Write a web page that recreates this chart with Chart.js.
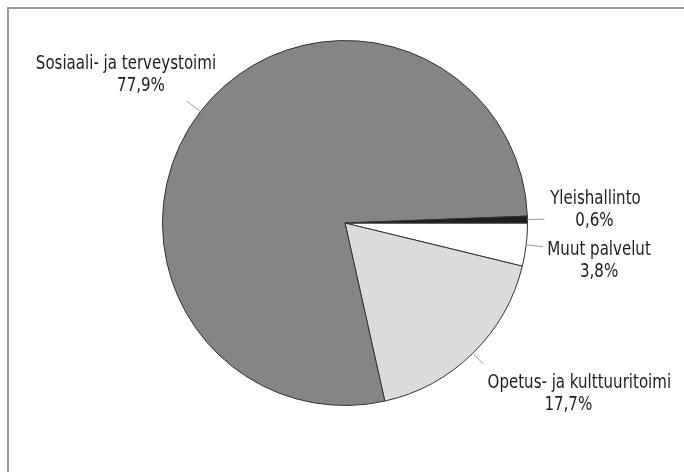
<!DOCTYPE html>
<html>
<head>
<meta charset="utf-8">
<script src="https://cdn.jsdelivr.net/npm/chart.js@4.4.1/dist/chart.umd.min.js"></script>
<style>
  html, body { margin: 0; padding: 0; background: #fff; }
  #wrap { position: relative; width: 684px; height: 472px; }
  #frame { position: absolute; left: 7px; top: 7px; right: 0; bottom: 0;
           border-top: 2px solid #9a9a9a; border-left: 2px solid #9a9a9a; }
  canvas { position: absolute; left: 0; top: 0; }
</style>
</head>
<body>
<div id="wrap">
  <div id="frame"></div>
  <canvas id="pieChart" width="684" height="472"></canvas>
</div>
<script>
// Data (clockwise from 3 o'clock)
const labels = ['Muut palvelut', 'Opetus- ja kulttuuritoimi', 'Sosiaali- ja terveystoimi', 'Yleishallinto'];
const values = [3.8, 17.7, 77.9, 0.6];
const valueLabels = ['3,8%', '17,7%', '77,9%', '0,6%'];

// little 2x2 dither patterns to mimic the printed greys
function dither(a, b) {
  const c = document.createElement('canvas');
  c.width = 2; c.height = 2;
  const g = c.getContext('2d');
  g.fillStyle = a; g.fillRect(0, 0, 2, 2);
  g.fillStyle = b; g.fillRect(0, 0, 1, 1); g.fillRect(1, 1, 1, 1);
  return g.createPattern(c, 'repeat');
}
const ctx = document.getElementById('pieChart').getContext('2d');
const colors = ['#ffffff', dither('#d2d2d2', '#e4e4e4'), dither('#7c7c7c', '#8e8e8e'), '#1e1e1e'];

// label settings per slice: leader length, text offset from leader end, 2nd line shift
const labelStyle = [
  { lead: 17, dx: 56, dy: 3, dx2: 0 },
  { lead: 15, dx: 96, dy: 19, dx2: -11 },
  { lead: 17, dx: -61, dy: -37, dx2: 15 },
  { lead: 17, dx: 51, dy: -20, dx2: -1 }
];

const leaderLabels = {
  id: 'leaderLabels',
  afterDatasetsDraw(chart) {
    const c = chart.ctx;
    const meta = chart.getDatasetMeta(0);
    c.save();
    c.font = '19px "Liberation Sans Narrow", "DejaVu Sans Condensed", sans-serif';
    c.fillStyle = '#1e1e1e';
    c.textAlign = 'center';
    c.textBaseline = 'middle';
    meta.data.forEach((arc, i) => {
      const p = arc.getProps(['x', 'y', 'startAngle', 'endAngle', 'outerRadius'], true);
      const mid = (p.startAngle + p.endAngle) / 2;
      const r = p.outerRadius;
      const s = labelStyle[i];
      const x0 = p.x + Math.cos(mid) * r, y0 = p.y + Math.sin(mid) * r;
      const x1 = p.x + Math.cos(mid) * (r + s.lead), y1 = p.y + Math.sin(mid) * (r + s.lead);
      c.strokeStyle = '#9a9a9a';
      c.lineWidth = 1;
      c.beginPath(); c.moveTo(x0, y0); c.lineTo(x1, y1); c.stroke();
      const tx = x1 + s.dx, ty = y1 + s.dy;
      // squeeze horizontally to get the condensed look
      c.save();
      c.translate(tx, ty);
      c.scale(0.88, 1);
      c.fillText(labels[i], 0, 0);
      c.fillText(valueLabels[i], s.dx2 / 0.88, 22);
      c.restore();
    });
    c.restore();
  }
};

new Chart(ctx, {
  type: 'pie',
  data: {
    labels: labels,
    datasets: [{
      data: values,
      backgroundColor: colors,
      borderColor: '#333333',
      borderWidth: 1
    }]
  },
  options: {
    responsive: false,
    animation: false,
    rotation: 90,
    layout: { padding: { left: 162, right: 156, top: 40, bottom: 66 } },
    plugins: {
      legend: { display: false },
      tooltip: { enabled: false }
    }
  },
  plugins: [leaderLabels]
});
</script>
</body>
</html>
